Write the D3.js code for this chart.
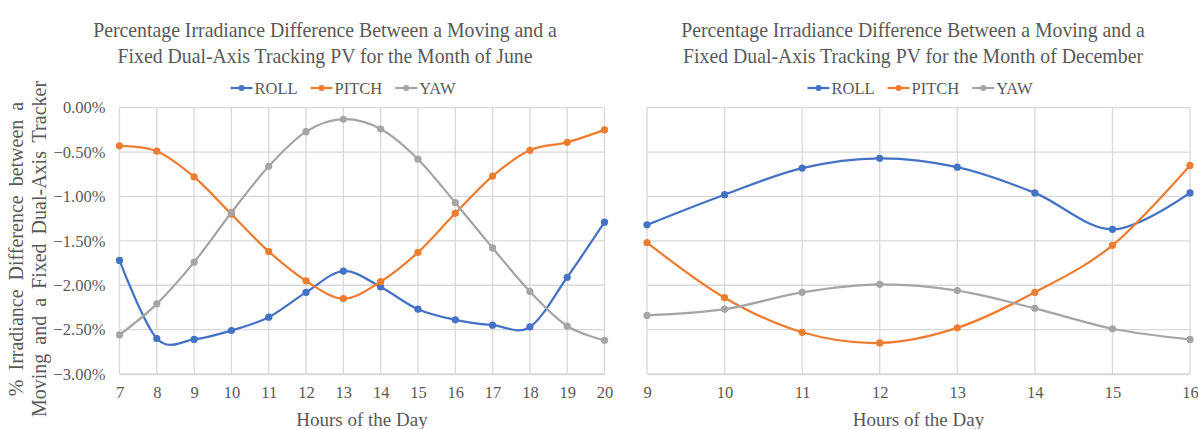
<!DOCTYPE html>
<html>
<head>
<meta charset="utf-8">
<script src="https://cdn.jsdelivr.net/npm/d3@7"></script>
<style>
  html, body { margin: 0; padding: 0; background: #fff; }
  svg { display: block; }
  text { font-family: "Liberation Serif", "Times New Roman", serif; fill: #595959; }
</style>
</head>
<body>
<svg id="chart" width="1198" height="429"></svg>
<script>
// Series names and colours
const seriesNames = ["ROLL", "PITCH", "YAW"];
const seriesColors = ["#4472C4", "#ED7D31", "#A5A5A5"];

// June: hours 7–20, percentage difference
const juneHours = [7, 8, 9, 10, 11, 12, 13, 14, 15, 16, 17, 18, 19, 20];
const juneRoll  = [-1.72, -2.60, -2.61, -2.51, -2.36, -2.08, -1.84, -2.02, -2.27, -2.39, -2.45, -2.47, -1.91, -1.29];
const junePitch = [-0.43, -0.49, -0.78, -1.20, -1.62, -1.95, -2.15, -1.96, -1.63, -1.19, -0.77, -0.48, -0.39, -0.25];
const juneYaw   = [-2.56, -2.21, -1.74, -1.18, -0.66, -0.27, -0.13, -0.24, -0.58, -1.07, -1.58, -2.07, -2.46, -2.62];

// December: hours 9–16
const decHours = [9, 10, 11, 12, 13, 14, 15, 16];
const decRoll  = [-1.32, -0.98, -0.68, -0.57, -0.67, -0.96, -1.37, -0.96];
const decPitch = [-1.52, -2.14, -2.53, -2.65, -2.48, -2.08, -1.55, -0.65];
const decYaw   = [-2.34, -2.27, -2.08, -1.99, -2.06, -2.26, -2.49, -2.61];

// Shared value axis ticks (percent)
const yTicks = [0, -0.5, -1.0, -1.5, -2.0, -2.5, -3.0];

const svg = d3.select("#chart");
const gridColor = "#D9D9D9";
const serif = "'Liberation Serif', 'Times New Roman', serif";

function drawPanel(cfg) {
  const x = d3.scaleLinear().domain(d3.extent(cfg.hours)).range([cfg.x0, cfg.x1]);
  const y = d3.scaleLinear().domain([-3, 0]).range([cfg.y1, cfg.y0]);
  const g = svg.append("g");

  // horizontal gridlines
  g.append("g").selectAll("line").data(yTicks).join("line")
    .attr("x1", cfg.x0).attr("x2", cfg.x1)
    .attr("y1", d => y(d)).attr("y2", d => y(d))
    .attr("stroke", gridColor).attr("stroke-width", 1.3);

  // vertical gridlines
  g.append("g").selectAll("line").data(cfg.hours).join("line")
    .attr("x1", d => x(d)).attr("x2", d => x(d))
    .attr("y1", cfg.y0).attr("y2", cfg.y1)
    .attr("stroke", gridColor).attr("stroke-width", 1.3);

  // x axis labels
  const xAxis = d3.axisBottom(x).tickValues(cfg.hours).tickSize(0).tickPadding(8).tickFormat(d3.format("d"));
  const xg = g.append("g").attr("transform", `translate(0,${cfg.y1})`).call(xAxis);
  xg.attr("font-family", null);
  xg.select(".domain").attr("stroke", gridColor).attr("stroke-width", 1.3);
  xg.selectAll("text").style("font-family", serif).style("font-size", "16.5px")
    .style("fill", "#595959").attr("dy", "0.95em");

  if (cfg.yLabels) {
    const yAxis = d3.axisLeft(y).tickValues(yTicks).tickSize(0).tickPadding(14)
      .tickFormat(d => d3.format(".2f")(d) + "%");
    const yg = g.append("g").attr("transform", `translate(${cfg.x0},0)`).call(yAxis);
    yg.attr("font-family", null);
    yg.select(".domain").remove();
    yg.selectAll("text").style("font-family", serif).style("font-size", "16.5px").style("fill", "#595959");
  }

  const line = d3.line().x(d => x(d[0])).y(d => y(d[1])).curve(d3.curveCardinal.tension(0));

  cfg.series.forEach((vals, i) => {
    const pts = cfg.hours.map((h, k) => [h, vals[k]]);
    g.append("path").datum(pts)
      .attr("d", line).attr("fill", "none")
      .attr("stroke", seriesColors[i]).attr("stroke-width", 2.25);
    g.append("g").selectAll("circle").data(pts).join("circle")
      .attr("cx", d => x(d[0])).attr("cy", d => y(d[1])).attr("r", 3.6)
      .attr("fill", seriesColors[i]);
  });

  // title (slightly condensed serif)
  const t = g.append("g").attr("transform", `translate(${cfg.titleX},0) scale(0.9,1)`)
    .append("text").attr("text-anchor", "middle").style("font-size", "22px");
  cfg.title.forEach((s, k) => t.append("tspan").attr("x", 0).attr("y", 37 + k * 26).text(s));

  // legend
  const lg = g.append("g");
  let cx = 0;
  seriesNames.forEach((name, i) => {
    const it = lg.append("g").attr("transform", `translate(${cx},0)`);
    it.append("line").attr("x1", 0).attr("x2", 22).attr("y1", 0).attr("y2", 0)
      .attr("stroke", seriesColors[i]).attr("stroke-width", 2.25);
    it.append("circle").attr("cx", 11).attr("cy", 0).attr("r", 3).attr("fill", seriesColors[i]);
    const tx = it.append("text").attr("x", 24).attr("y", 0).attr("dy", "0.35em")
      .style("font-size", "16.5px").text(name);
    cx += 24 + tx.node().getComputedTextLength() + 13;
  });
  const total = cx - 13;
  lg.attr("transform", `translate(${cfg.legendX - total / 2},88)`);

  // x axis title
  g.append("text").attr("x", (cfg.x0 + cfg.x1) / 2).attr("y", 426)
    .attr("text-anchor", "middle").style("font-size", "19px").text("Hours of the Day");
}

drawPanel({
  hours: juneHours, series: [juneRoll, junePitch, juneYaw],
  x0: 119.5, x1: 604.5, y0: 107.7, y1: 374, yLabels: true,
  title: ["Percentage Irradiance Difference Between a Moving and a",
          "Fixed Dual-Axis Tracking PV for the Month of June"],
  titleX: 325, legendX: 343
});

drawPanel({
  hours: decHours, series: [decRoll, decPitch, decYaw],
  x0: 647, x1: 1190, y0: 107.7, y1: 374, yLabels: false,
  title: ["Percentage Irradiance Difference Between a Moving and a",
          "Fixed Dual-Axis Tracking PV for the Month of December"],
  titleX: 913, legendX: 920
});

// value axis title (two lines, rotated)
const yt = svg.append("text").attr("transform", "translate(0,249) rotate(-90)")
  .attr("text-anchor", "middle").style("font-size", "20px").attr("word-spacing", 4);
yt.append("tspan").attr("x", 0).attr("y", 23).text("% Irradiance Difference between a");
yt.append("tspan").attr("x", 0).attr("y", 46).text("Moving and a Fixed Dual-Axis Tracker");
</script>
</body>
</html>
